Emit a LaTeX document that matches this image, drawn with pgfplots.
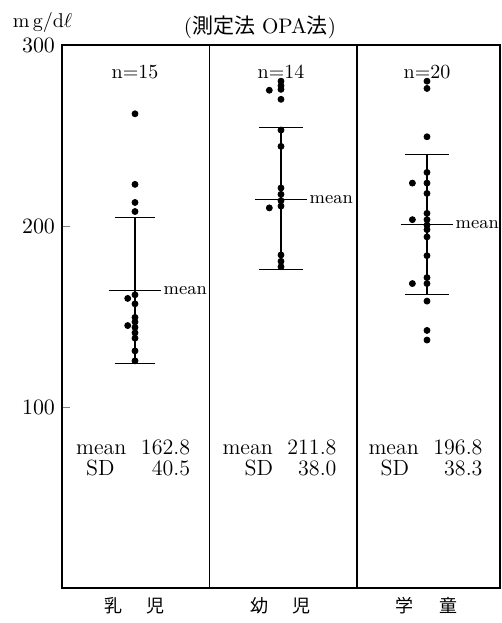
\documentclass[border=0pt]{standalone}
\usepackage{fontspec}
\usepackage{pgfplots}
\pgfplotsset{compat=1.18}
\newfontfamily\cjk{Noto Sans CJK JP}
\begin{document}
\begin{tikzpicture}
\path[use as bounding box] (-31pt,-17.5pt) rectangle (220pt,294pt);
\begin{axis}[
  at={(0,0)}, anchor=south west,
  scale only axis, width=219pt, height=271.5pt,
  xmin=0, xmax=3, ymin=0, ymax=300,
  ytick={100,200,300},
  xtick={0.5,1.5,2.5},
  xticklabels={乳\hspace{12pt}児, 幼\hspace{12pt}児, 学\hspace{13pt}童},
  xticklabel style={font=\cjk\fontsize{9}{10}\selectfont, yshift=-1pt},
  yticklabel style={font=\fontsize{10.5}{12}\selectfont},
  xtick style={draw=none},
  ytick pos=left,
  tick align=inside,
  major tick length=4pt,
  axis line style={line width=0.8pt},
  clip=false,
]
% dividers
\addplot[black, line width=0.7pt] coordinates {(1.01,0) (1.01,300)};
\addplot[black, line width=0.7pt] coordinates {(2.02,0) (2.02,300)};

% group 1
\addplot[black, line width=0.6pt] coordinates {(0.5,124) (0.5,204.5)};
\addplot[black, line width=0.6pt] coordinates {(0.36,204.5) (0.64,204.5)};
\addplot[black, line width=0.6pt] coordinates {(0.36,124) (0.64,124)};
\addplot[black, line width=0.6pt] coordinates {(0.32,164.5) (0.68,164.5)};
\addplot[only marks, mark=*, mark size=1.5pt, black] coordinates {
(0.5,262) (0.5,223) (0.5,213) (0.5,208) (0.5,162) (0.45,160) (0.5,157)
(0.5,149.5) (0.5,147) (0.45,145) (0.5,144) (0.5,141) (0.5,138) (0.5,131) (0.5,125.5)};

% group 2
\addplot[black, line width=0.6pt] coordinates {(1.5,176) (1.5,254.5)};
\addplot[black, line width=0.6pt] coordinates {(1.35,254.5) (1.65,254.5)};
\addplot[black, line width=0.6pt] coordinates {(1.35,176) (1.65,176)};
\addplot[black, line width=0.6pt] coordinates {(1.32,214.5) (1.68,214.5)};
\addplot[only marks, mark=*, mark size=1.5pt, black] coordinates {
(1.5,280) (1.5,277.5) (1.5,275.5) (1.42,275) (1.5,270) (1.5,253) (1.5,244)
(1.5,221) (1.5,217.5) (1.5,214) (1.42,210) (1.5,211)
(1.5,184) (1.5,180.5) (1.5,177.5)};

% group 3
\addplot[black, line width=0.6pt] coordinates {(2.5,162) (2.5,239.5)};
\addplot[black, line width=0.6pt] coordinates {(2.35,239.5) (2.65,239.5)};
\addplot[black, line width=0.6pt] coordinates {(2.35,162) (2.65,162)};
\addplot[black, line width=0.6pt] coordinates {(2.32,201) (2.68,201)};
\addplot[only marks, mark=*, mark size=1.5pt, black] coordinates {
(2.5,280) (2.5,276) (2.5,249.3) (2.5,229.6) (2.4,223.7) (2.5,223.7) (2.5,218)
(2.5,207) (2.4,203.5) (2.5,203.5) (2.5,200.5) (2.5,198) (2.5,194) (2.5,183.6)
(2.5,171.5) (2.4,168.2) (2.5,168.2) (2.5,158.5) (2.5,142.3) (2.5,137)};

% texts
\node[font=\fontsize{9}{10}\selectfont, anchor=west, inner sep=1pt] at (axis cs:0.68,164.5) {mean};
\node[font=\fontsize{9}{10}\selectfont, anchor=west, inner sep=1pt] at (axis cs:1.68,214.5) {mean};
\node[font=\fontsize{9}{10}\selectfont, anchor=west, inner sep=1pt] at (axis cs:2.68,201) {mean};

\node[font=\fontsize{10}{12}\selectfont] at (axis cs:0.5,285) {n=15};
\node[font=\fontsize{10}{12}\selectfont] at (axis cs:1.5,285) {n=14};
\node[font=\fontsize{10}{12}\selectfont] at (axis cs:2.5,285) {n=20};

\node[font=\fontsize{11}{10.5}\selectfont, align=left] at (axis cs:0.487,72)
  {\hbox to 57pt{mean\hfill162.8}\\\hbox to 57pt{\hspace{5pt}SD\hfill40.5}};
\node[font=\fontsize{11}{10.5}\selectfont, align=left] at (axis cs:1.49,72)
  {\hbox to 57pt{mean\hfill211.8}\\\hbox to 57pt{\hspace{11pt}SD\hfill38.0}};
\node[font=\fontsize{11}{10.5}\selectfont, align=left] at (axis cs:2.49,72)
  {\hbox to 57pt{mean\hfill196.8}\\\hbox to 57pt{\hspace{6pt}SD\hfill38.3}};

\node[font=\fontsize{10}{12}\selectfont] at ([xshift=-9.75pt,yshift=11.5pt]rel axis cs:0,1) {m\,g/d$\ell$};
\node[font=\fontsize{10.5}{12}\selectfont] at ([yshift=9pt]rel axis cs:0.452,1) {({\cjk 測定法}\ OPA{\cjk 法})};
\end{axis}
\end{tikzpicture}
\end{document}
